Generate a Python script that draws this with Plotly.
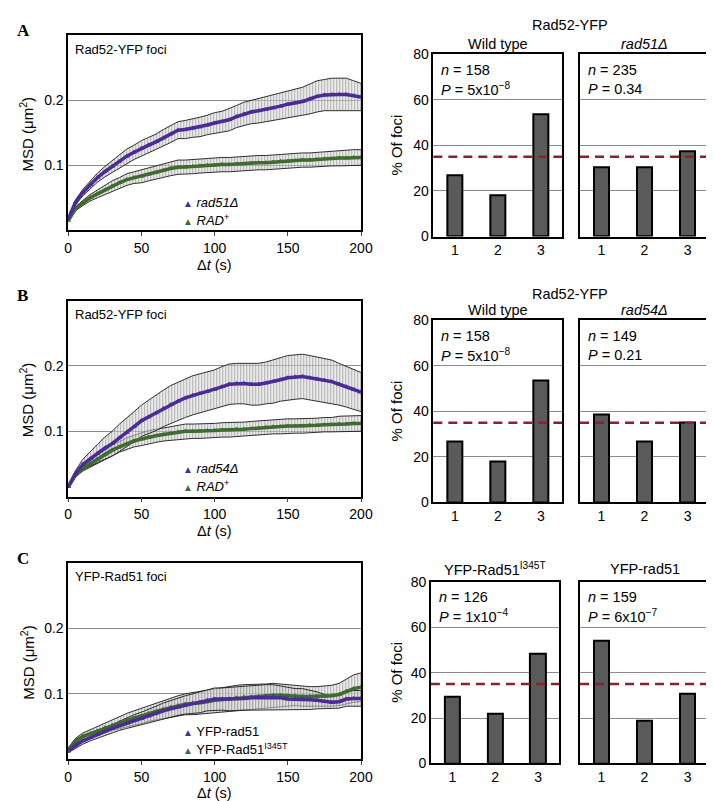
import plotly.graph_objects as go

W, H = 714, 801

# ---- MSD data (every 5 s) ----
dt = [0, 5, 10, 15, 20, 25, 30, 35, 40, 45,
      50, 55, 60, 65, 70, 75, 80, 85, 90, 95,
      100, 105, 110, 115, 120, 125, 130, 135, 140, 145,
      150, 155, 160, 165, 170, 175, 180, 185, 190, 195,
      200]

a_rad51_msd = [0.018, 0.043, 0.058, 0.070, 0.081, 0.090, 0.098, 0.106, 0.114, 0.120,
               0.126, 0.131, 0.136, 0.142, 0.148, 0.154, 0.155, 0.157, 0.159, 0.162,
               0.165, 0.167, 0.170, 0.175, 0.179, 0.182, 0.184, 0.186, 0.188, 0.191,
               0.194, 0.196, 0.198, 0.202, 0.206, 0.208, 0.209, 0.209, 0.209, 0.207,
               0.205]
a_rad51_err = [0.002, 0.004, 0.005, 0.006, 0.007, 0.008, 0.009, 0.010, 0.011, 0.011,
               0.012, 0.012, 0.012, 0.013, 0.013, 0.013, 0.014, 0.014, 0.015, 0.015,
               0.016, 0.016, 0.017, 0.017, 0.018, 0.018, 0.019, 0.019, 0.020, 0.020,
               0.021, 0.021, 0.022, 0.023, 0.024, 0.024, 0.025, 0.025, 0.025, 0.023,
               0.021]
a_rad_msd = [0.015, 0.033, 0.042, 0.050, 0.056, 0.062, 0.068, 0.073, 0.078, 0.081,
             0.083, 0.086, 0.089, 0.092, 0.095, 0.097, 0.097, 0.098, 0.099, 0.100,
             0.100, 0.101, 0.101, 0.102, 0.102, 0.103, 0.104, 0.104, 0.105, 0.106,
             0.106, 0.107, 0.108, 0.108, 0.109, 0.110, 0.110, 0.111, 0.111, 0.112,
             0.112]
a_rad_err = [0.002, 0.003, 0.004, 0.005, 0.006, 0.007, 0.008, 0.008, 0.009, 0.009,
             0.010, 0.010, 0.010, 0.010, 0.011, 0.011, 0.011, 0.011, 0.011, 0.011,
             0.011, 0.011, 0.011, 0.011, 0.011, 0.011, 0.011, 0.011, 0.011, 0.011,
             0.011, 0.011, 0.011, 0.011, 0.011, 0.011, 0.011, 0.012, 0.012, 0.012,
             0.012]

b_rad54_msd = [0.015, 0.035, 0.049, 0.058, 0.066, 0.074, 0.081, 0.090, 0.098, 0.107,
               0.116, 0.122, 0.128, 0.135, 0.141, 0.146, 0.151, 0.155, 0.158, 0.161,
               0.164, 0.168, 0.172, 0.173, 0.173, 0.172, 0.172, 0.174, 0.176, 0.179,
               0.182, 0.183, 0.184, 0.182, 0.180, 0.178, 0.176, 0.172, 0.168, 0.164,
               0.160]
b_rad54_err = [0.002, 0.005, 0.008, 0.011, 0.014, 0.017, 0.019, 0.021, 0.022, 0.023,
               0.024, 0.026, 0.027, 0.028, 0.029, 0.029, 0.030, 0.030, 0.030, 0.030,
               0.030, 0.031, 0.031, 0.031, 0.031, 0.032, 0.032, 0.032, 0.033, 0.033,
               0.034, 0.034, 0.034, 0.034, 0.034, 0.033, 0.033, 0.032, 0.031, 0.030,
               0.030]
b_rad_msd = [0.015, 0.033, 0.043, 0.050, 0.057, 0.064, 0.071, 0.076, 0.081, 0.085,
             0.088, 0.091, 0.093, 0.095, 0.097, 0.099, 0.100, 0.100, 0.100, 0.101,
             0.101, 0.102, 0.102, 0.103, 0.103, 0.104, 0.105, 0.106, 0.107, 0.107,
             0.108, 0.108, 0.108, 0.109, 0.109, 0.110, 0.110, 0.111, 0.111, 0.112,
             0.112]
b_rad_err = [0.002, 0.003, 0.004, 0.005, 0.006, 0.007, 0.008, 0.008, 0.009, 0.009,
             0.010, 0.010, 0.010, 0.010, 0.011, 0.011, 0.011, 0.011, 0.011, 0.011,
             0.011, 0.011, 0.011, 0.011, 0.011, 0.011, 0.011, 0.011, 0.011, 0.011,
             0.011, 0.011, 0.011, 0.011, 0.011, 0.011, 0.011, 0.012, 0.012, 0.012,
             0.012]

c_rad51_msd = [0.012, 0.021, 0.028, 0.033, 0.038, 0.043, 0.047, 0.051, 0.055, 0.059,
               0.062, 0.066, 0.070, 0.074, 0.077, 0.080, 0.083, 0.085, 0.087, 0.090,
               0.092, 0.092, 0.092, 0.093, 0.093, 0.094, 0.094, 0.095, 0.095, 0.094,
               0.092, 0.092, 0.092, 0.091, 0.090, 0.088, 0.087, 0.088, 0.092, 0.093,
               0.093]
c_rad51_err = [0.002, 0.004, 0.005, 0.005, 0.006, 0.006, 0.007, 0.007, 0.008, 0.009,
               0.010, 0.010, 0.011, 0.012, 0.013, 0.013, 0.014, 0.015, 0.016, 0.016,
               0.017, 0.017, 0.018, 0.018, 0.018, 0.019, 0.019, 0.019, 0.019, 0.018,
               0.017, 0.016, 0.016, 0.015, 0.013, 0.011, 0.010, 0.010, 0.011, 0.012,
               0.012]
c_i345t_msd = [0.015, 0.028, 0.035, 0.039, 0.043, 0.048, 0.052, 0.056, 0.060, 0.063,
               0.066, 0.070, 0.073, 0.076, 0.079, 0.082, 0.084, 0.085, 0.086, 0.088,
               0.090, 0.091, 0.092, 0.094, 0.095, 0.095, 0.096, 0.097, 0.098, 0.098,
               0.097, 0.097, 0.096, 0.096, 0.096, 0.096, 0.097, 0.099, 0.104, 0.108,
               0.110]
c_i345t_err = [0.002, 0.004, 0.005, 0.006, 0.007, 0.008, 0.008, 0.009, 0.010, 0.011,
               0.012, 0.012, 0.013, 0.014, 0.015, 0.015, 0.016, 0.017, 0.017, 0.018,
               0.018, 0.018, 0.019, 0.019, 0.019, 0.019, 0.019, 0.018, 0.018, 0.017,
               0.016, 0.015, 0.015, 0.015, 0.015, 0.016, 0.016, 0.017, 0.019, 0.021,
               0.022]

# ---- bar data (% of foci per class) ----
classes = [1, 2, 3]
a_wt = [27, 18.2, 53.6]
a_rad51 = [30.6, 30.6, 37.5]
b_wt = [26.8, 18.1, 53.6]
b_rad54 = [38.6, 26.8, 35.0]
c_i345t = [29.2, 22.0, 48.3]
c_rad51 = [54.2, 18.9, 30.7]
random_level = 35

PURPLE = "#4a2b98"
GREEN = "#3e6b2f"
FONT = "Liberation Sans, Arial, sans-serif"
FS_MSD = 13      # text inside the MSD panels
FS_BAR = 14.5    # text around the bar panels
FS_TICK = 14

fig = go.Figure()
annotations = []
shapes = []


def ax_names(n):
    return ("xaxis" if n == 1 else f"xaxis{n}",
            "yaxis" if n == 1 else f"yaxis{n}",
            "x" if n == 1 else f"x{n}",
            "y" if n == 1 else f"y{n}")


def ann(x, y, text, size, xanchor="left", yanchor="middle", angle=0, family=FONT, color="black"):
    annotations.append(dict(x=x / W, y=1 - y / H, xref="paper", yref="paper", text=text,
                            showarrow=False, xanchor=xanchor, yanchor=yanchor, textangle=angle,
                            font=dict(size=size, family=family, color=color)))


def msd_panel(n, top, bottom, series, letter, title, legend):
    xa, ya, xr, yr = ax_names(n)
    left, right = 57.5, 357
    fig.update_layout(**{
        xa: dict(domain=[left / W, right / W], anchor=yr, range=[0, 200],
                 tickvals=[0, 50, 100, 150, 200], ticks="outside", ticklen=4,
                 showline=True, linecolor="black", linewidth=1.5, mirror=True,
                 showgrid=False, zeroline=False, tickfont=dict(size=FS_TICK, family=FONT)),
        ya: dict(domain=[1 - bottom / H, 1 - top / H], anchor=xr, range=[0, 0.3],
                 tickvals=[0.1, 0.2], ticktext=["0.1", "0.2"], ticks="",
                 showline=True, linecolor="black", linewidth=1.5, mirror=True,
                 showgrid=True, gridcolor="#8c8c8c", gridwidth=1, zeroline=False,
                 tickfont=dict(size=FS_TICK, family=FONT)),
    })
    # hatched error bands first, mean curves on top
    for mean, err, col in series:
        upper = [m + e for m, e in zip(mean, err)]
        lower = [m - e for m, e in zip(mean, err)]
        fig.add_trace(go.Scatter(x=dt, y=upper, mode="lines", xaxis=xr, yaxis=yr,
                                 line=dict(color="#1a1a1a", width=0.9), showlegend=False,
                                 hoverinfo="skip"))
        fig.add_trace(go.Scatter(x=dt, y=lower, mode="lines", xaxis=xr, yaxis=yr,
                                 line=dict(color="#1a1a1a", width=0.9), showlegend=False,
                                 fill="tonexty", fillcolor="rgba(0,0,0,0)",
                                 fillpattern=dict(shape="|", size=3, solidity=0.45,
                                                  fgcolor="#6e6e6e", bgcolor="rgba(235,235,235,0.5)"),
                                 hoverinfo="skip"))
    for mean, err, col in series:
        fig.add_trace(go.Scatter(x=dt, y=mean, mode="lines+markers", xaxis=xr, yaxis=yr,
                                 line=dict(color=col, width=3.5),
                                 marker=dict(symbol="triangle-up", size=5, color=col),
                                 showlegend=False))
    ann(3, top - 5, f"<b>{letter}</b>", 17, family="Liberation Serif, Times New Roman, serif")
    ann(62, top + 14, title, FS_MSD)
    (t1, c1), (t2, c2) = legend
    ann(173, bottom - 28.5, f"<span style='color:{c1};font-size:10px'>▲</span> {t1}", FS_MSD)
    ann(173, bottom - 10.5, f"<span style='color:{c2};font-size:10px'>▲</span> {t2}", FS_MSD)
    ann(207, bottom + 35, "Δ<i>t</i> (s)", 14.5, xanchor="center")
    ann(15, (top + bottom) / 2 + 2, "MSD (μm<sup>2</sup>)", 15, xanchor="center", angle=-90)


def bar_panel(n, x0, x1, top, bottom, values, show_y, stats):
    xa, ya, xr, yr = ax_names(n)
    fig.update_layout(**{
        xa: dict(domain=[x0 / W, x1 / W], anchor=yr, range=[0.5, 3.5], tickvals=classes,
                 showline=True, linecolor="black", linewidth=1.5, mirror=True,
                 showgrid=False, zeroline=False, ticks="", tickfont=dict(size=FS_TICK, family=FONT)),
        ya: dict(domain=[1 - bottom / H, 1 - top / H], anchor=xr, range=[0, 80],
                 tickvals=[0, 20, 40, 60, 80], showticklabels=show_y, ticks="",
                 showline=True, linecolor="black", linewidth=1.5, mirror=True,
                 showgrid=True, gridcolor="#8c8c8c", gridwidth=1, zeroline=False,
                 tickfont=dict(size=FS_TICK, family=FONT)),
    })
    fig.add_trace(go.Bar(x=classes, y=values, xaxis=xr, yaxis=yr, width=0.36,
                         marker=dict(color="#5a5a5a", line=dict(color="black", width=2)),
                         showlegend=False))
    shapes.append(dict(type="line", xref=f"{xr} domain", yref=yr, x0=0, x1=1,
                       y0=random_level, y1=random_level,
                       line=dict(color="#8e1f2f", width=2.5, dash="9px,6px")))
    nn, pp = stats
    ann(x0 + 6, top + 16, f"<i>n</i> = {nn}", FS_BAR)
    ann(x0 + 6, top + 35, f"<i>P</i> = {pp}", FS_BAR)


msd_panel(1, 19.7, 218.6,
          [(a_rad_msd, a_rad_err, GREEN), (a_rad51_msd, a_rad51_err, PURPLE)],
          "A", "Rad52-YFP foci",
          [("<i>rad51Δ</i>", PURPLE), ("<i>RAD</i><sup>+</sup>", GREEN)])
msd_panel(2, 290.5, 490.3,
          [(b_rad_msd, b_rad_err, GREEN), (b_rad54_msd, b_rad54_err, PURPLE)],
          "B", "Rad52-YFP foci",
          [("<i>rad54Δ</i>", PURPLE), ("<i>RAD</i><sup>+</sup>", GREEN)])
msd_panel(3, 558.3, 758.3,
          [(c_i345t_msd, c_i345t_err, GREEN), (c_rad51_msd, c_rad51_err, PURPLE)],
          "C", "YFP-Rad51 foci",
          [("YFP-rad51", PURPLE), ("YFP-Rad51<sup>I345T</sup>", GREEN)])

bar_panel(4, 431, 563, 39, 225, a_wt, True, ("158", "5x10<sup>−8</sup>"))
bar_panel(5, 581, 713, 39, 225, a_rad51, False, ("235", "0.34"))
bar_panel(6, 431, 563, 310.7, 496, b_wt, True, ("158", "5x10<sup>−8</sup>"))
bar_panel(7, 581, 713, 310.7, 496, b_rad54, False, ("149", "0.21"))
bar_panel(8, 428.5, 560, 577.3, 762.7, c_i345t, True, ("126", "1x10<sup>−4</sup>"))
bar_panel(9, 581, 713, 577.3, 762.7, c_rad51, False, ("159", "6x10<sup>−7</sup>"))

# bar chart headings
ann(571, 8.7, "Rad52-YFP", FS_BAR, xanchor="center")
ann(497, 28.3, "Wild type", FS_BAR, xanchor="center")
ann(647, 28.3, "<i>rad51Δ</i>", FS_BAR, xanchor="center")
ann(571, 283.3, "Rad52-YFP", FS_BAR, xanchor="center")
ann(497, 300, "Wild type", FS_BAR, xanchor="center")
ann(647, 300, "<i>rad54Δ</i>", FS_BAR, xanchor="center")
ann(494, 564, "YFP-Rad51<sup>I345T</sup>", FS_BAR, xanchor="center")
ann(647, 564, "YFP-rad51", FS_BAR, xanchor="center")
for yc in [132, 403.3, 670]:
    ann(393, yc, "% Of foci", 15, xanchor="center", angle=-90)

fig.update_layout(width=W, height=H, margin=dict(l=0, r=0, t=0, b=0),
                  paper_bgcolor="white", plot_bgcolor="white",
                  font=dict(family=FONT, size=14, color="black"),
                  annotations=annotations, shapes=shapes, showlegend=False,
                  bargap=0)

fig.write_html("out.html")
